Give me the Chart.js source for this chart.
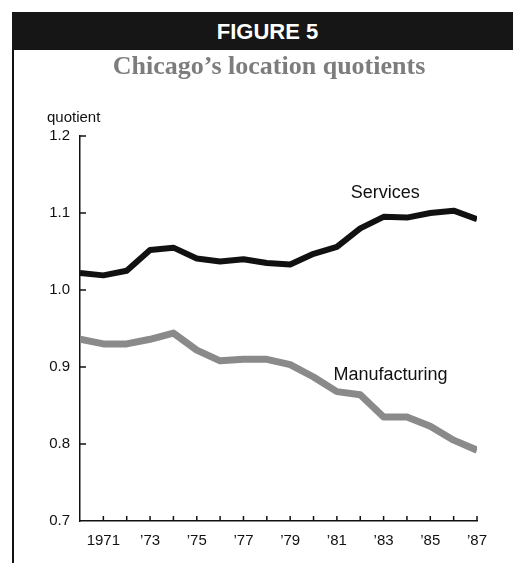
<!DOCTYPE html>
<html>
<head>
<meta charset="utf-8">
<script src="https://cdn.jsdelivr.net/npm/chart.js@4/dist/chart.umd.min.js"></script>
<style>
  html, body { margin: 0; padding: 0; background: #fff; }
  #wrap { position: relative; width: 513px; height: 563px; overflow: hidden; }
  #frame { position: absolute; left: 12px; top: 12px; width: 2px; height: 551px; background: #111; }
  #head { position: absolute; left: 12px; top: 12px; width: 501px; height: 38px; background: #161616;
          color: #fff; font: bold 22px "Liberation Sans", Arial, sans-serif; text-align: center; line-height: 40px;
          padding-left: 10px; box-sizing: border-box; }
  #title { position: absolute; left: 14px; width: 510px; top: 51px; text-align: center;
           font: bold 26px "Liberation Serif", "Times New Roman", serif; color: #7d7d7d; }
  #unit { position: absolute; left: 47px; top: 108px; font: 15px "Liberation Sans", Arial, sans-serif; color: #111; }
  canvas { position: absolute; left: 0; top: 0; }
</style>
</head>
<body>
<div id="wrap">
  <canvas id="grafico" width="513" height="563"></canvas>
  <div id="frame"></div>
  <div id="head">FIGURE 5</div>
  <div id="title">Chicago’s location quotients</div>
  <div id="unit">quotient</div>
</div>
<script>
var anos = [1970, 1971, 1972, 1973, 1974, 1975, 1976, 1977, 1978, 1979,
            1980, 1981, 1982, 1983, 1984, 1985, 1986, 1987];
var servicos = [1.022, 1.019, 1.025, 1.052, 1.055, 1.041, 1.037, 1.040, 1.035, 1.033,
                1.047, 1.056, 1.080, 1.095, 1.094, 1.100, 1.103, 1.092];
var manufatura = [0.936, 0.930, 0.930, 0.936, 0.944, 0.922, 0.908, 0.910, 0.910, 0.903,
                  0.887, 0.868, 0.864, 0.835, 0.835, 0.823, 0.805, 0.792];
var yTicks = [0.7, 0.8, 0.9, 1.0, 1.1, 1.2];

function pontos(valores) {
    return anos.map(function (a, i) { return { x: a, y: valores[i] }; });
}

// ticks drawn inward, plus the two series names
var decoracao = {
    id: 'decoracao',
    afterDraw: function (chart) {
        var ctx = chart.ctx;
        var sx = chart.scales.x, sy = chart.scales.y;
        var area = chart.chartArea;
        ctx.save();
        ctx.strokeStyle = '#111';
        ctx.lineWidth = 1.5;
        yTicks.forEach(function (v) {
            if (v === 0.7) return;
            var py = sy.getPixelForValue(v);
            ctx.beginPath();
            ctx.moveTo(area.left, py);
            ctx.lineTo(area.left + 6, py);
            ctx.stroke();
        });
        anos.forEach(function (a) {
            if (a === 1970) return;
            var px = sx.getPixelForValue(a);
            ctx.beginPath();
            ctx.moveTo(px, area.bottom);
            ctx.lineTo(px, area.bottom - 5);
            ctx.stroke();
        });
        ctx.fillStyle = '#111';
        ctx.font = '18px "Liberation Sans", Arial, sans-serif';
        ctx.textAlign = 'center';
        ctx.textBaseline = 'middle';
        ctx.fillText('Services', sx.getPixelForValue(1983.07), sy.getPixelForValue(1.126));
        ctx.fillText('Manufacturing', sx.getPixelForValue(1983.3), sy.getPixelForValue(0.89));
        ctx.restore();
    }
};

var ctx = document.getElementById('grafico').getContext('2d');
var grafico = new Chart(ctx, {
    type: 'line',
    data: {
        datasets: [{
            label: 'Services',
            data: pontos(servicos),
            borderColor: '#111',
            borderWidth: 6,
            pointRadius: 0,
            tension: 0,
            borderJoinStyle: 'round'
        }, {
            label: 'Manufacturing',
            data: pontos(manufatura),
            borderColor: '#8a8a8a',
            borderWidth: 7,
            pointRadius: 0,
            tension: 0,
            borderJoinStyle: 'round'
        }]
    },
    options: {
        responsive: false,
        animation: false,
        layout: { padding: { top: 136, right: 36, left: 0, bottom: 0 } },
        plugins: { legend: { display: false }, tooltip: { enabled: false } },
        scales: {
            x: {
                type: 'linear',
                min: 1970,
                max: 1987,
                afterFit: function (s) { s.height = 42; },
                afterBuildTicks: function (s) {
                    s.ticks = anos.map(function (a) { return { value: a }; });
                },
                grid: { display: false },
                border: { display: true, color: '#111', width: 1.5 },
                ticks: {
                    color: '#111',
                    font: { family: '"Liberation Sans", Arial, sans-serif', size: 15 },
                    padding: 3,
                    maxRotation: 0,
                    autoSkip: false,
                    callback: function (v) {
                        if (v % 2 === 0) return '';
                        if (v === 1971) return '1971';
                        return '\u2019' + String(v).slice(2);
                    }
                }
            },
            y: {
                min: 0.7,
                max: 1.2,
                afterFit: function (s) { s.width = 80; },
                afterBuildTicks: function (s) {
                    s.ticks = yTicks.map(function (v) { return { value: v }; });
                },
                grid: { display: false },
                border: { display: true, color: '#111', width: 1.5 },
                ticks: {
                    color: '#111',
                    font: { family: '"Liberation Sans", Arial, sans-serif', size: 15 },
                    padding: 2,
                    callback: function (v) { return v.toFixed(1); }
                }
            }
        }
    },
    plugins: [decoracao]
});
</script>
</body>
</html>
